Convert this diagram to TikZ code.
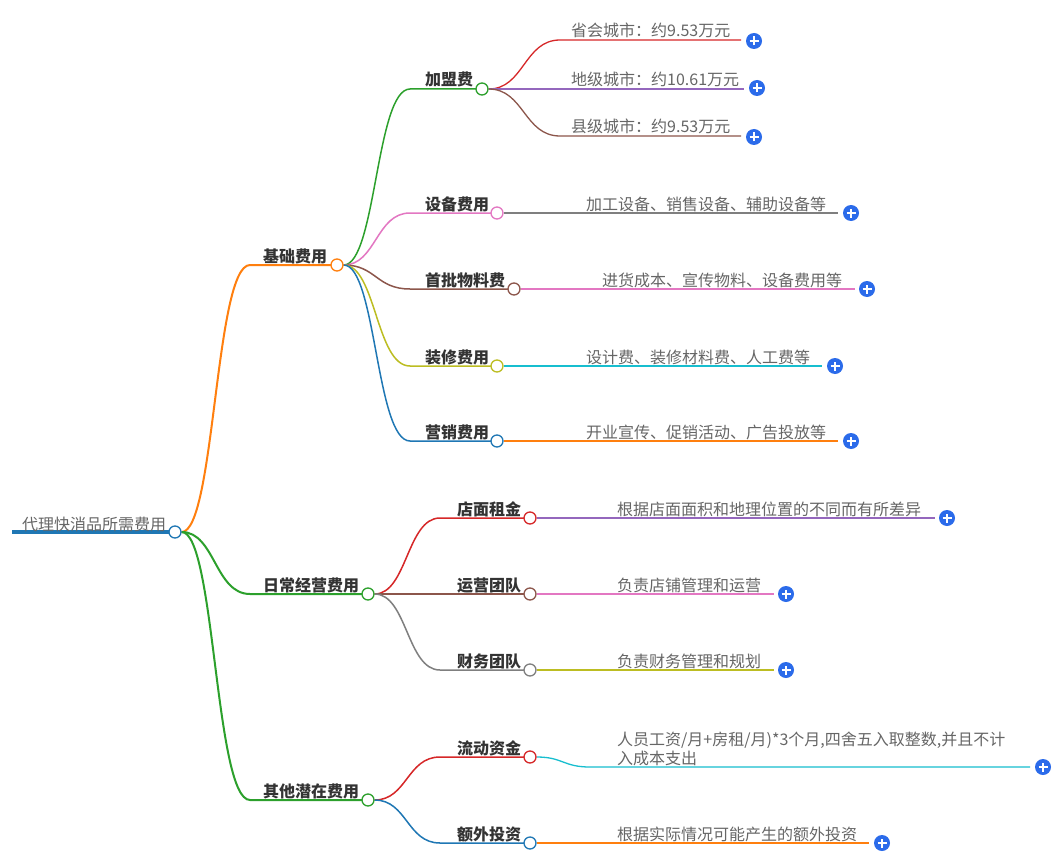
\documentclass[tikz,border=0pt]{standalone}
\usepackage{fontspec}
\newfontfamily\cjk{Noto Sans CJK SC}
\usetikzlibrary{backgrounds}
\definecolor{cBlue}{HTML}{1F77B4}
\definecolor{cOrange}{HTML}{FF7F0E}
\definecolor{cGreen}{HTML}{2CA02C}
\definecolor{cRed}{HTML}{D62728}
\definecolor{cPurple}{HTML}{9467BD}
\definecolor{cBrown}{HTML}{8C564B}
\definecolor{cPink}{HTML}{E377C2}
\definecolor{cGray}{HTML}{7F7F7F}
\definecolor{cOlive}{HTML}{BCBD22}
\definecolor{cCyan}{HTML}{17BECF}
\definecolor{plusblue}{HTML}{2B6BEA}
\definecolor{lblgray}{HTML}{333333}
\definecolor{leafgray}{HTML}{666666}
\tikzset{
  dot/.style={circle, draw, fill=white, minimum size=12pt, inner sep=0pt, line width=1.3pt},
  lbl/.style={font=\cjk\bfseries\fontsize{16}{20}\selectfont, text=lblgray, inner sep=0pt, anchor=base west, yshift=-2pt},
  leaf/.style={font=\cjk\fontsize{16}{20}\selectfont, text=leafgray, inner sep=0pt, anchor=base west, yshift=-2pt},
  brA/.style={line width=2pt},
  brB/.style={line width=1.5pt},
  brC/.style={line width=1.3pt},
  plusbtn/.style={circle, fill=plusblue, minimum size=16pt, inner sep=0pt,
    path picture={
      \draw[white, line width=1.7pt] ([xshift=-4.5pt]path picture bounding box.center) -- ([xshift=4.5pt]path picture bounding box.center);
      \draw[white, line width=1.7pt] ([yshift=-4.5pt]path picture bounding box.center) -- ([yshift=4.5pt]path picture bounding box.center);
    }},
}
\begin{document}
\begin{tikzpicture}[x=1pt,y=-1pt]
\path[use as bounding box] (0,0) rectangle (1059,861);

% ---------- root ----------
\coordinate (r0) at (12,532);
\node[dot, draw=cBlue] (root) at (175,532) {};
\node[leaf] (rootT) at (22,528) {代理快消品所需费用};

% ---------- level 1 ----------
\node[dot, draw=cOrange] (jc) at (337,265) {};
\node[lbl] (jcT) at (263,260) {基础费用};
\coordinate (jcS) at (250,265);

\node[dot, draw=cGreen] (rc) at (368,594) {};
\node[lbl] (rcT) at (263,589) {日常经营费用};
\coordinate (rcS) at (250,594);

\node[dot, draw=cGreen] (qt) at (368,800) {};
\node[lbl] (qtT) at (263,795) {其他潜在费用};
\coordinate (qtS) at (250,800);

% ---------- level 2 (基础费用) ----------
\node[dot, draw=cGreen] (jm) at (482,89) {};
\node[lbl] (jmT) at (425,84) {加盟费};
\coordinate (jmS) at (410,89);

\node[dot, draw=cPink] (sb) at (497,213) {};
\node[lbl] (sbT) at (425,208) {设备费用};
\coordinate (sbS) at (410,213);

\node[dot, draw=cBrown] (sp) at (514,289) {};
\node[lbl] (spT) at (425,284) {首批物料费};
\coordinate (spS) at (410,289);

\node[dot, draw=cOlive] (zx) at (497,366) {};
\node[lbl] (zxT) at (425,361) {装修费用};
\coordinate (zxS) at (410,366);

\node[dot, draw=cBlue] (yx) at (497,441) {};
\node[lbl] (yxT) at (425,436) {营销费用};
\coordinate (yxS) at (410,441);

% ---------- level 2 (日常经营费用) ----------
\node[dot, draw=cRed] (dm) at (530,518) {};
\node[lbl] (dmT) at (457,513) {店面租金};
\coordinate (dmS) at (440,518);

\node[dot, draw=cBrown] (yy) at (530,594) {};
\node[lbl] (yyT) at (457,589) {运营团队};

\node[dot, draw=cGray] (cw) at (530,670) {};
\node[lbl] (cwT) at (457,665) {财务团队};
\coordinate (cwS) at (440,670);

% ---------- level 2 (其他潜在费用) ----------
\node[dot, draw=cRed] (lz) at (530,757) {};
\node[lbl] (lzT) at (457,752) {流动资金};
\coordinate (lzS) at (440,757);

\node[dot, draw=cBlue] (ew) at (530,843) {};
\node[lbl] (ewT) at (457,838) {额外投资};
\coordinate (ewS) at (440,843);

% ---------- leaves ----------
\coordinate (l1S) at (560,40);  \coordinate (l1E) at (741,40);
\node[leaf] (l1T) at (571,35) {省会城市：约9.53万元};
\node[plusbtn] (p1) at (754,41) {};

\coordinate (l2E) at (744,89);
\node[leaf] (l2T) at (571,84) {地级城市：约10.61万元};
\node[plusbtn] (p2) at (757,88) {};

\coordinate (l3S) at (560,136); \coordinate (l3E) at (741,136);
\node[leaf] (l3T) at (571,131) {县级城市：约9.53万元};
\node[plusbtn] (p3) at (754,137) {};

\coordinate (l4E) at (838,213);
\node[leaf] (l4T) at (586,208) {加工设备、销售设备、辅助设备等};
\node[plusbtn] (p4) at (851,213) {};

\coordinate (l5E) at (855,289);
\node[leaf] (l5T) at (602,284) {进货成本、宣传物料、设备费用等};
\node[plusbtn] (p5) at (867,289) {};

\coordinate (l6E) at (822,366);
\node[leaf] (l6T) at (586,361) {设计费、装修材料费、人工费等};
\node[plusbtn] (p6) at (835,366) {};

\coordinate (l7E) at (838,441);
\node[leaf] (l7T) at (586,436) {开业宣传、促销活动、广告投放等};
\node[plusbtn] (p7) at (851,441) {};

\coordinate (l8E) at (935,518);
\node[leaf] (l8T) at (617,513) {根据店面面积和地理位置的不同而有所差异};
\node[plusbtn] (p8) at (947,518) {};

\coordinate (l9E) at (774,594);
\node[leaf] (l9T) at (617,589) {负责店铺管理和运营};
\node[plusbtn] (p9) at (786,594) {};

\coordinate (l10E) at (774,670);
\node[leaf] (l10T) at (617,665) {负责财务管理和规划};
\node[plusbtn] (p10) at (786,670) {};

\coordinate (l11S) at (590,767); \coordinate (l11E) at (1030,767);
\node[leaf, anchor=north west, align=left, font=\cjk\fontsize{16}{19}\selectfont] (l11T) at (617,730) {人员工资/月+房租/月)*3个月,四舍五入取整数,并且不计\\入成本支出};
\node[plusbtn] (p11) at (1043,767) {};

\coordinate (l12E) at (869,843);
\node[leaf] (l12T) at (617,838) {根据实际情况可能产生的额外投资};
\node[plusbtn] (p12) at (882,843) {};

% ---------- connectors ----------
\begin{scope}[on background layer]
\fill[white] (0,0) rectangle (1059,861);
\draw[cBlue, line width=4pt] (r0) -- (root.center);
% level 1
\draw[brA, cOrange] (root.east) .. controls (215,532) and (215,265) .. (jcS) -- (jc.center);
\draw[brA, cGreen] (root.east) .. controls (215,532) and (215,594) .. (rcS) -- (rc.center);
\draw[brA, cGreen] (root.east) .. controls (215,532) and (215,800) .. (qtS) -- (qt.center);
% level 2 from 基础费用
\draw[brB, cGreen] (jc.east) .. controls (376,265) and (376,89) .. (jmS) -- (jm.center);
\draw[brB, cPink] (jc.east) .. controls (376,265) and (376,213) .. (sbS) -- (sb.center);
\draw[brB, cBrown] (jc.east) .. controls (376,265) and (376,289) .. (spS) -- (sp.center);
\draw[brB, cOlive] (jc.east) .. controls (376,265) and (376,366) .. (zxS) -- (zx.center);
\draw[brB, cBlue] (jc.east) .. controls (376,265) and (376,441) .. (yxS) -- (yx.center);
% level 2 from 日常经营费用
\draw[brB, cRed] (rc.east) .. controls (407,594) and (407,518) .. (dmS) -- (dm.center);
\draw[brB, cBrown] (rc.east) -- (yy.center);
\draw[brB, cGray] (rc.east) .. controls (407,594) and (407,670) .. (cwS) -- (cw.center);
% level 2 from 其他潜在费用
\draw[brB, cRed] (qt.east) .. controls (407,800) and (407,757) .. (lzS) -- (lz.center);
\draw[brB, cBlue] (qt.east) .. controls (407,800) and (407,843) .. (ewS) -- (ew.center);
% leaves
\draw[brC, cRed] (jm.east) .. controls (524,89) and (524,40) .. (l1S) -- (l1E);
\draw[brC, cPurple] (jm.east) -- (l2E);
\draw[brC, cBrown] (jm.east) .. controls (524,89) and (524,136) .. (l3S) -- (l3E);
\draw[brC, cGray] (sb.east) -- (l4E);
\draw[brC, cPink] (sp.east) -- (l5E);
\draw[brC, cCyan] (zx.east) -- (l6E);
\draw[brC, cOrange] (yx.east) -- (l7E);
\draw[brC, cPurple] (dm.east) -- (l8E);
\draw[brC, cPink] (yy.east) -- (l9E);
\draw[brC, cOlive] (cw.east) -- (l10E);
\draw[brC, cCyan] (lz.east) .. controls (563,757) and (563,767) .. (l11S) -- (l11E);
\draw[brC, cOrange] (ew.east) -- (l12E);
\end{scope}
\end{tikzpicture}
\end{document}
